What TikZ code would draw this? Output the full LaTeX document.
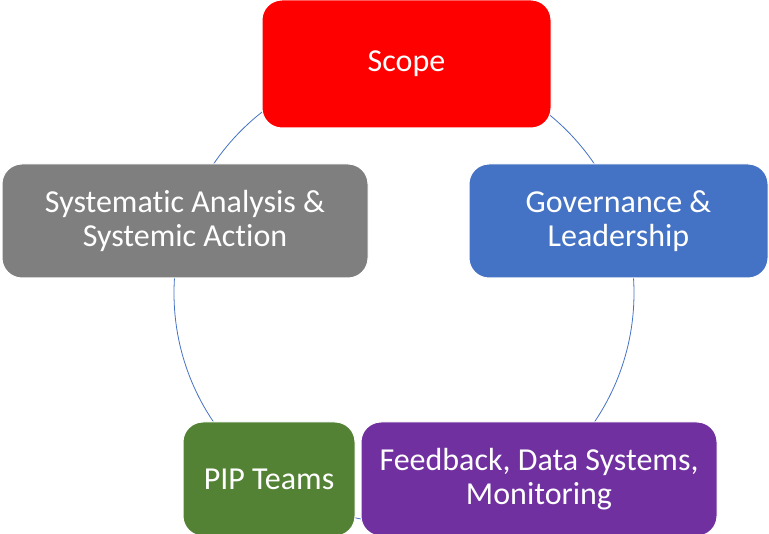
\documentclass[tikz,border=0pt]{standalone}
\usepackage{fontspec}
\setmainfont{Carlito}[Ligatures=NoCommon]
\usepackage{tikz}
\usetikzlibrary{shapes.geometric, arrows}
\definecolor{scopered}{HTML}{FF0000}
\definecolor{govblue}{HTML}{4472C4}
\definecolor{anagray}{HTML}{7F7F7F}
\definecolor{pipgreen}{HTML}{548235}
\definecolor{feedpurple}{HTML}{7030A0}
\tikzstyle{block} = [rectangle, rounded corners=20pt, draw=white, line width=1pt, text=white, align=center, inner sep=0pt, font=\fontsize{32}{34}\selectfont]
\tikzstyle{ring} = [draw=govblue, line width=0.8pt]

\begin{document}
\begin{tikzpicture}[x=1pt, y=-1pt]
	\useasboundingbox (0,0) rectangle (769,534);
	\coordinate (mid) at (404,293);
	\draw[ring] (mid) circle (230pt);
	\node[block, fill=scopered, minimum width=289pt, minimum height=128pt] (scope) at (406.5,64) {Scope};
	\node[block, fill=govblue, minimum width=299pt, minimum height=114pt] (gov) at (618.5,221) {Governance \&\\Leadership};
	\node[block, fill=anagray, minimum width=366pt, minimum height=114pt] (sys) at (185,221) {Systematic Analysis \&\\Systemic Action};
	\node[block, fill=pipgreen, minimum width=172pt, minimum height=114pt] (pip) at (269,479) {PIP Teams};
	\node[block, fill=feedpurple, minimum width=356pt, minimum height=114pt] (feed) at (539,479) {Feedback, Data Systems,\\Monitoring};
\end{tikzpicture}
\end{document}
